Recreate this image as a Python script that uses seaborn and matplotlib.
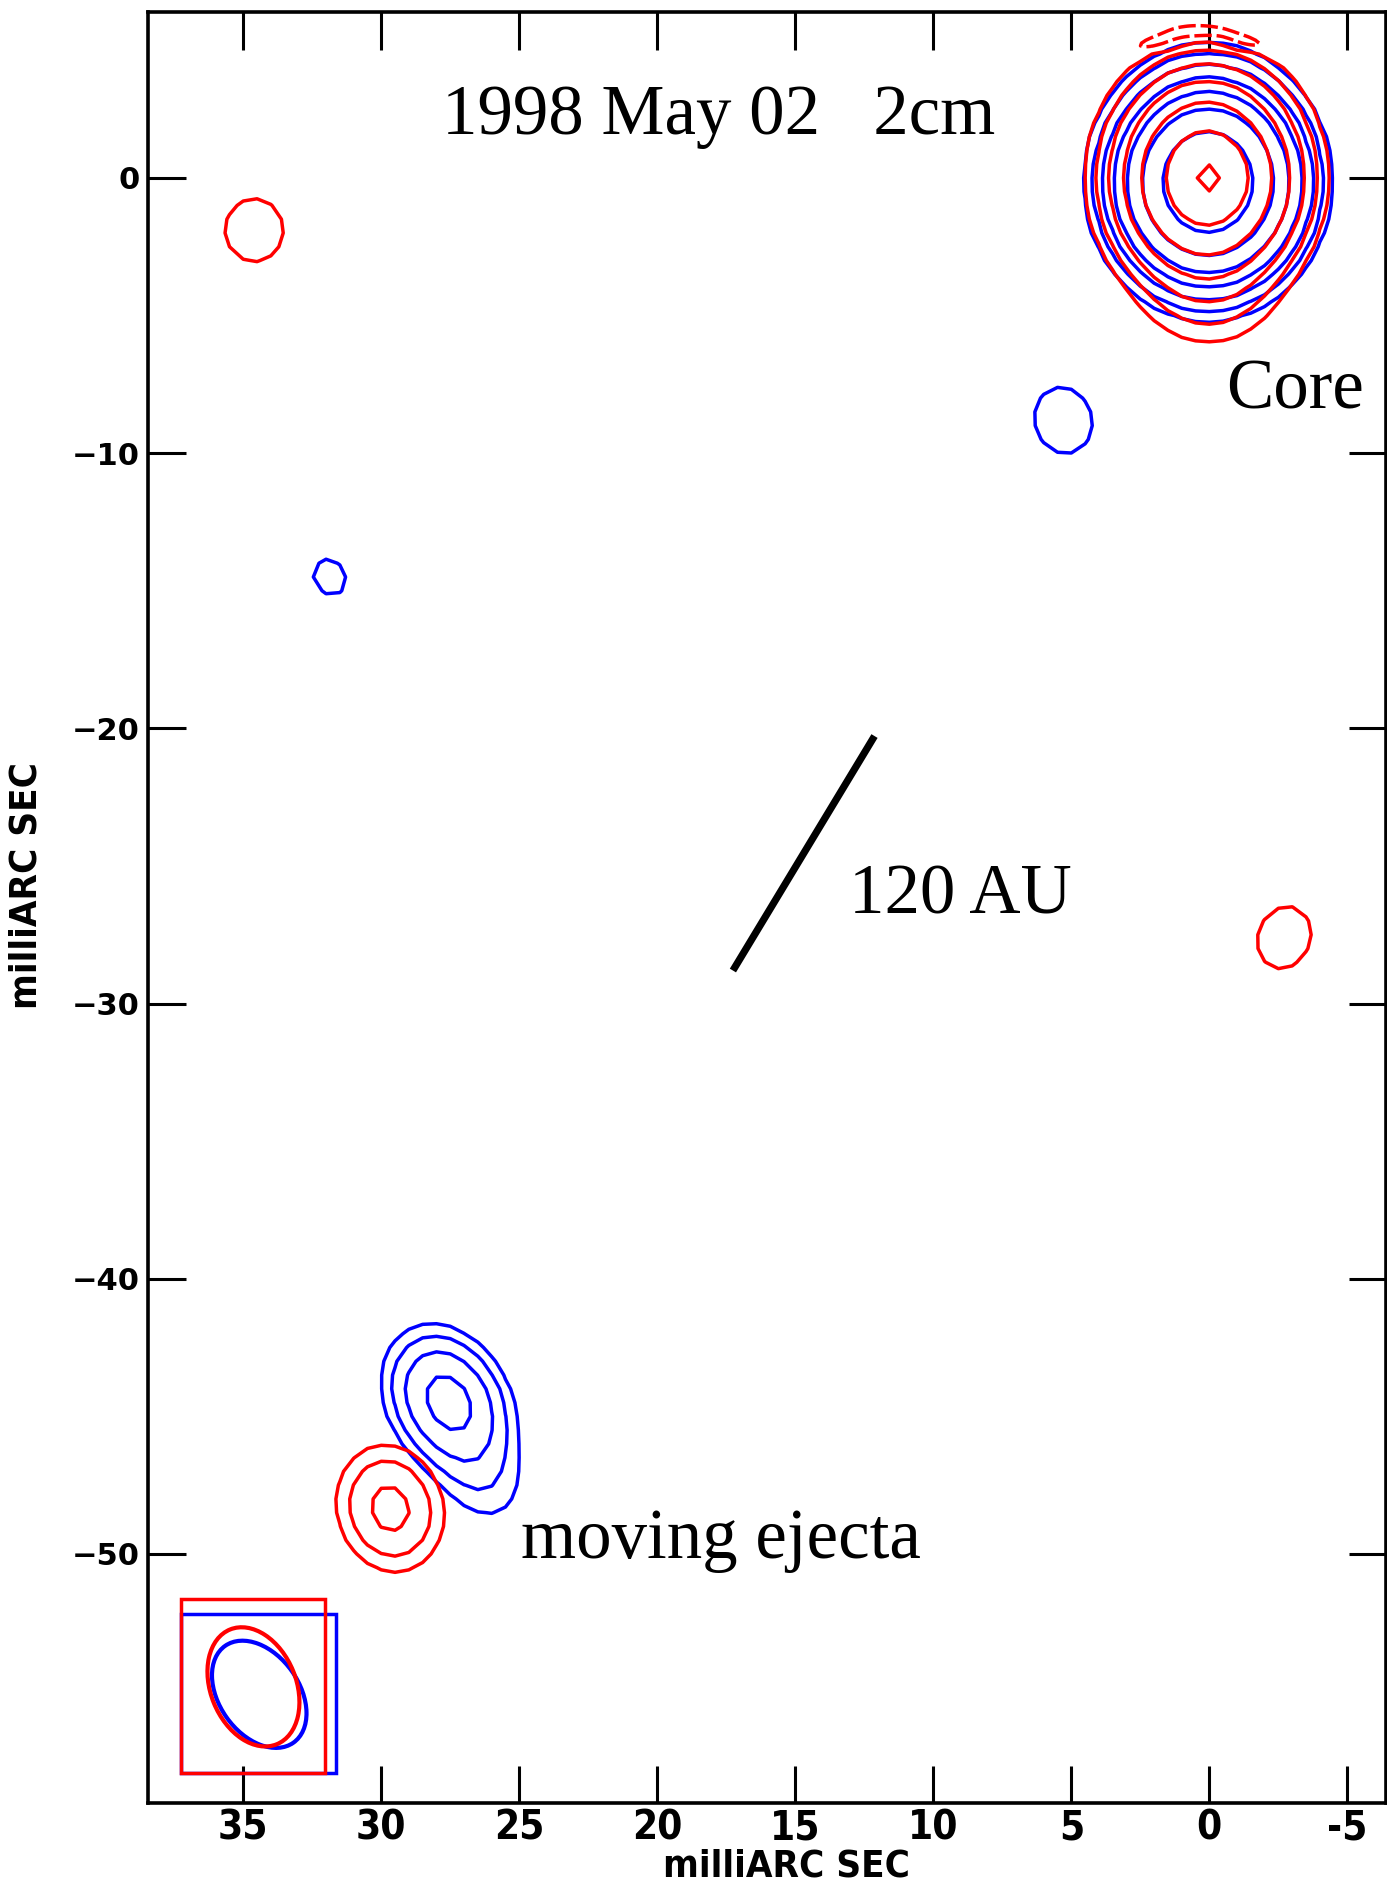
import os
import numpy as np
import matplotlib
matplotlib.use("Agg")
import matplotlib.pyplot as plt
from matplotlib import font_manager as fm
from matplotlib.font_manager import FontProperties
from matplotlib.patches import Ellipse, Rectangle
import seaborn as sns

# ---------------------------------------------------------------------------
# Contour levels, in units of the lowest contour
pos_levels = [1, 2, 4, 8, 16, 32, 64]
neg_levels = [-1]

# Red map: elliptical Gaussian components (mas offsets, peak in contour units)
red_x      = [0.10, 0.00, 0.00, 1.80, 0.40, -1.20, 29.68, 34.60, -2.71]
red_y      = [0.00, 0.00, -4.50, 5.00, 5.32, 5.02, -48.35, -1.90, -27.60]
red_peak   = [48.0, 24.0, 1.5, -2.6, -2.6, -2.6, 4.9, 1.85, 1.85]
red_sig_ns = [1.85, 0.62, 1.20, 0.17, 0.17, 0.17, 1.30, 1.03, 1.04]
red_sig_ew = [1.58, 0.57, 1.50, 0.70, 0.70, 0.70, 1.07, 0.95, 0.85]
red_pa     = [0, 0, 0, 16, 0, -16, 15, 0, -20]

# Blue map components
blue_x      = [0.05, 5.29, 31.87, 27.60, 26.50]
blue_y      = [-0.15, -8.81, -14.50, -44.40, -46.80]
blue_peak   = [120.0, 1.85, 1.30, 10.0, 2.0]
blue_sig_ns = [1.63, 1.10, 0.95, 1.35, 1.50]
blue_sig_ew = [1.45, 0.93, 0.80, 1.02, 1.00]
blue_pa     = [0, 15, 30, 30, 25]

# Restoring beams (FWHM, mas) and their boxes
beam_x     = [34.42, 34.63]          # blue, red
beam_y     = [-55.10, -54.83]
beam_major = [4.3, 4.5]
beam_minor = [2.9, 3.1]
beam_pa    = [35, 22]
box_x0     = [37.27, 37.27]
box_x1     = [31.63, 32.03]
box_y0     = [-57.96, -57.96]
box_y1     = [-52.18, -51.63]
beam_colors = ["#0000FF", "#FF0000"]

# Linear scale bar (120 AU)
scale_bar_x = [17.26, 12.13]
scale_bar_y = [-28.80, -20.28]

# Axis ticks
x_tick_values = [35, 30, 25, 20, 15, 10, 5, 0, -5]
x_tick_labels = ["35", "30", "25", "20", "15", "10", "5", "0", "-5"]
y_tick_values = [0, -10, -20, -30, -40, -50]
y_tick_labels = ["0", "\u221210", "\u221220", "\u221230", "\u221240", "\u221250"]

# Annotations: (text, x, y)
annotations = [
    ("1998 May 02   2cm", 27.8, 1.58),
    ("Core", -0.61, -8.38),
    ("120 AU", 13.07, -26.72),
    ("moving ejecta", 24.92, -50.13),
]


def sky_map(step, cx, cy, peak, sig_ns, sig_ew, pa):
    xs = np.arange(-7.0, 39.0 + step / 2, step)
    ys = np.arange(-60.0, 7.0 + step / 2, step)
    X, Y = np.meshgrid(xs, ys)
    img = np.zeros_like(X)
    for x0, y0, a0, sn, se, p in zip(cx, cy, peak, sig_ns, sig_ew, pa):
        t = np.deg2rad(p)
        dx, dy = X - x0, Y - y0
        along = dx * np.sin(t) + dy * np.cos(t)
        across = dx * np.cos(t) - dy * np.sin(t)
        img += a0 * np.exp(-0.5 * (along / sn) ** 2 - 0.5 * (across / se) ** 2)
    return X, Y, img


def pick_narrow_bold():
    prefs = ["liberationsansnarrow-bold.", "dejavusanscondensed-bold.",
             "robotocondensed-bold.", "opensanscondensed-bold."]
    files = [f.fname for f in fm.fontManager.ttflist]
    for pref in prefs:
        for fn in files:
            if os.path.basename(fn).lower().startswith(pref):
                return fn
    for fn in files:
        b = os.path.basename(fn).lower()
        if ("narrow" in b or "condensed" in b) and "bold" in b and "italic" not in b and "oblique" not in b:
            return fn
    return None


sns.set_theme(style="ticks")
plt.rcParams["font.family"] = ["Liberation Serif", "DejaVu Serif"]
plt.rcParams["axes.unicode_minus"] = False
plt.rcParams["text.color"] = "black"
plt.rcParams["axes.labelcolor"] = "black"
plt.rcParams["xtick.color"] = "black"
plt.rcParams["ytick.color"] = "black"

narrow_file = pick_narrow_bold()
if narrow_file:
    tick_fp = FontProperties(fname=narrow_file, size=29)
    label_fp = FontProperties(fname=narrow_file, size=27.5)
else:
    tick_fp = FontProperties(family="Liberation Sans", weight="bold", size=27)
    label_fp = FontProperties(family="Liberation Sans", weight="bold", size=25)
ytick_fp = FontProperties(family="DejaVu Sans", weight="bold", size=22)

fig = plt.figure(figsize=(13.87, 18.85), dpi=100)
fig.patch.set_facecolor("white")
ax = fig.add_axes([148 / 1387, 82 / 1885, 1238 / 1387, 1791 / 1885])
ax.set_facecolor("white")

lw = 2.5
# blue map (drawn first), then red map on top
Xb, Yb, blue_img = sky_map(0.5, blue_x, blue_y, blue_peak, blue_sig_ns, blue_sig_ew, blue_pa)
ax.contour(Xb, Yb, blue_img, levels=pos_levels, colors="#0000FF", linewidths=lw,
           linestyles="solid", zorder=2)

Xr, Yr, red_img = sky_map(0.5, red_x, red_y, red_peak, red_sig_ns, red_sig_ew, red_pa)
ax.contour(Xr, Yr, red_img, levels=pos_levels, colors="#FF0000", linewidths=lw,
           linestyles="solid", zorder=3)
Xn, Yn, red_fine = sky_map(0.1, red_x, red_y, red_peak, red_sig_ns, red_sig_ew, red_pa)
ax.contour(Xn, Yn, red_fine, levels=neg_levels, colors="#FF0000", linewidths=lw,
           linestyles=[(0, (5, 1.4))], zorder=3)

# beams and their boxes
for i in range(len(beam_x)):
    ax.add_patch(Rectangle((box_x1[i], box_y0[i]), box_x0[i] - box_x1[i], box_y1[i] - box_y0[i],
                           fill=False, edgecolor=beam_colors[i], linewidth=lw, zorder=4 + i))
    ax.add_patch(Ellipse((beam_x[i], beam_y[i]), width=beam_minor[i], height=beam_major[i],
                         angle=-beam_pa[i], fill=False, edgecolor=beam_colors[i],
                         linewidth=lw + 0.5, zorder=4 + i))

# scale bar
sns.lineplot(x=scale_bar_x, y=scale_bar_y, sort=False, color="black", linewidth=5.2,
             ax=ax, zorder=5, solid_capstyle="butt")

for txt, tx, ty in annotations:
    ax.text(tx, ty, txt, fontsize=51, family=["Liberation Serif", "DejaVu Serif"],
            ha="left", va="baseline", color="black", zorder=6)

ax.set_xlim(38.45, -6.40)
ax.set_ylim(-59.05, 6.03)

for side in ["left", "right", "top", "bottom"]:
    ax.spines[side].set_linewidth(2.6)
    ax.spines[side].set_color("black")

ax.set_xticks(x_tick_values)
ax.set_xticklabels(x_tick_labels, fontproperties=tick_fp)
ax.set_yticks(y_tick_values)
ax.set_yticklabels(y_tick_labels, fontproperties=ytick_fp)
ax.tick_params(axis="both", which="major", direction="in", length=27, width=2.2,
               top=True, right=True, color="black", labelcolor="black")
ax.tick_params(axis="x", pad=4)
ax.tick_params(axis="y", pad=6)
ax.minorticks_off()

ax.set_xlabel("milliARC SEC", fontproperties=label_fp, color="black")
ax.xaxis.set_label_coords(0.516, -0.0408)
ax.xaxis.label.set_va("baseline")
ax.set_ylabel("milliARC SEC", fontproperties=label_fp, color="black")
ax.yaxis.set_label_coords(-0.084, 0.512)

fig.savefig("out.png", dpi=100, facecolor="white")
